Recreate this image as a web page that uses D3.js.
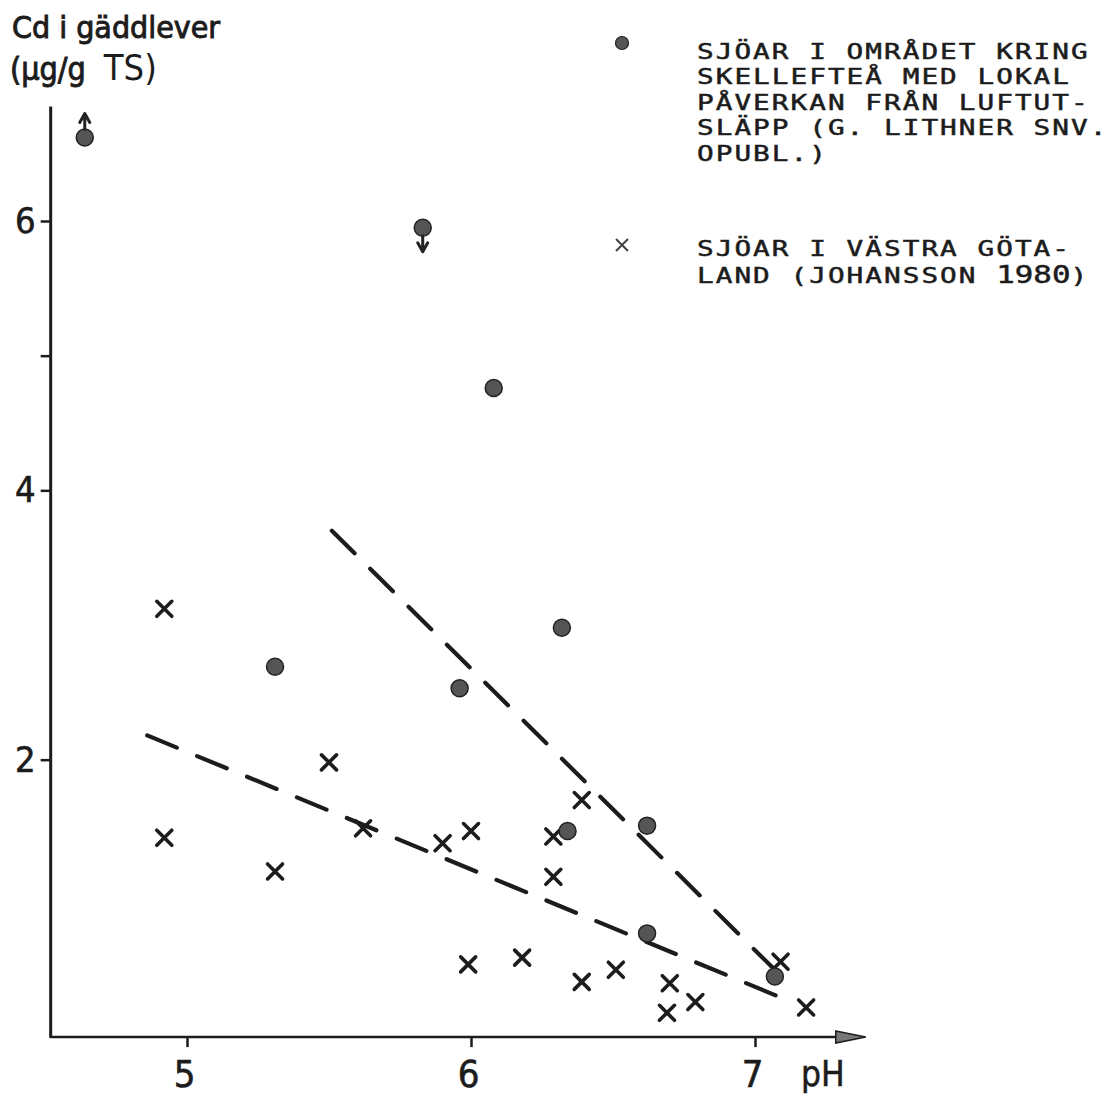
<!DOCTYPE html>
<html>
<head>
<meta charset="utf-8">
<script src="https://cdn.jsdelivr.net/npm/d3@7"></script>
<style>
  html, body { margin: 0; padding: 0; background: #fff; }
  svg { display: block; }
  .cond { font-family: "DejaVu Sans Condensed", "Liberation Sans Narrow", "DejaVu Sans", sans-serif; font-stretch: condensed; }
  .mono { font-family: "DejaVu Sans Mono", "Liberation Mono", monospace; }
</style>
</head>
<body>
<svg id="chart" width="1118" height="1098"></svg>
<script>
// Skellefteå lakes (local air-emission impact): pH and Cd in pike liver
const lakesNorthPH = [4.64, 5.83, 6.08, 5.31, 6.32, 5.96, 6.34, 6.62, 6.62, 7.07];
const lakesNorthCd = [6.62, 5.95, 4.76, 2.69, 2.98, 2.53, 1.47, 1.51, 0.71, 0.39];
// values beyond the marker: +1 = true value higher, -1 = lower, 0 = exact
const lakesNorthBound = [1, -1, 0, 0, 0, 0, 0, 0, 0, 0];

// Västra Götaland lakes (Johansson 1980)
const lakesWestPH = [4.92, 4.92, 5.31, 5.50, 5.62, 5.90, 6.00, 5.99, 6.18, 6.29,
                     6.29, 6.39, 6.39, 6.51, 6.70, 6.69, 6.79, 7.09, 7.18];
const lakesWestCd = [3.12, 1.42, 1.17, 1.98, 1.49, 1.38, 1.47, 0.48, 0.53, 1.43,
                     1.13, 1.70, 0.35, 0.44, 0.34, 0.12, 0.20, 0.50, 0.16];

// hand-fitted trend lines: [pH, Cd] end points
const trendNorth = [[5.51, 3.70], [7.06, 0.46]];
const trendWest = [[4.86, 2.18], [7.13, 0.20]];

const xTicks = [5, 6, 7];
const yTicks = [2, 4, 5, 6];
const yTickLabels = {2: "2", 4: "4", 6: "6"};
const xDomainEnds = [4.52, 7.39];
const yDomainEnds = [-0.06, 6.85];

const legendNorth = ["SJÖAR I OMRÅDET KRING", "SKELLEFTEÅ MED LOKAL",
                     "PÅVERKAN FRÅN LUFTUT-", "SLÄPP (G. LITHNER SNV.", "OPUBL.)"];
const legendWest = ["SJÖAR I VÄSTRA GÖTA-", "LAND (JOHANSSON "];
const legendWestYear = "1980";
const legendWestTail = ")";

const svg = d3.select("#chart");
const ink = "#1c1c1c";

const x = d3.scaleLinear().domain([5, 7]).range([187, 755]);
const y = d3.scaleLinear().domain([0, 6]).range([1029, 221]);

const axisY0 = y(yDomainEnds[0]);
const axisX0 = x(xDomainEnds[0]);

// x axis: ticks and labels
const gx = svg.append("g")
  .attr("transform", `translate(0,${axisY0})`)
  .call(d3.axisBottom(x).tickValues(xTicks).tickSize(10).tickPadding(13).tickFormat(d3.format("d")));
gx.select(".domain").remove();
gx.selectAll(".tick line").attr("stroke", ink).attr("stroke-width", 2.5);
gx.selectAll(".tick text").attr("class", "cond").attr("font-size", 38).attr("fill", ink)
  .attr("stroke", ink).attr("stroke-width", 0.6).attr("dx", -3);

// x axis line with arrow head
const xEnd = x(xDomainEnds[1]);
svg.append("line")
  .attr("x1", axisX0).attr("y1", axisY0).attr("x2", xEnd - 24).attr("y2", axisY0)
  .attr("stroke", ink).attr("stroke-width", 2.5);
svg.append("path")
  .attr("d", `M${xEnd - 30},${axisY0 - 6} L${xEnd},${axisY0} L${xEnd - 30},${axisY0 + 6} Z`)
  .attr("fill", "#777").attr("stroke", ink).attr("stroke-width", 1.5);

svg.append("text").attr("class", "cond")
  .attr("x", x(7) + 46).attr("y", 1086)
  .attr("font-size", 35).attr("fill", ink).attr("stroke", ink).attr("stroke-width", 0.5).text("pH");

// y axis
const gy = svg.append("g")
  .attr("transform", `translate(${axisX0},0)`)
  .call(d3.axisLeft(y).tickValues(yTicks).tickSize(10).tickPadding(5)
    .tickFormat(d => yTickLabels[d] || ""));
gy.select(".domain").remove();
gy.selectAll(".tick line").attr("stroke", ink).attr("stroke-width", 2.5);
gy.selectAll(".tick text").attr("class", "cond").attr("font-size", 36).attr("fill", ink)
  .attr("stroke", ink).attr("stroke-width", 0.6);

svg.append("line")
  .attr("x1", axisX0).attr("y1", axisY0 + 1).attr("x2", axisX0).attr("y2", y(yDomainEnds[1]))
  .attr("stroke", ink).attr("stroke-width", 3);

// axis title
svg.append("text").attr("class", "cond").attr("fill", ink)
  .attr("x", 12).attr("y", 38).attr("font-size", 31)
  .attr("stroke", ink).attr("stroke-width", 0.9)
  .attr("textLength", 208).attr("lengthAdjust", "spacingAndGlyphs")
  .text("Cd i gäddlever");
const t2 = svg.append("text").attr("class", "cond").attr("fill", ink).attr("x", 10).attr("y", 80);
t2.append("tspan").attr("font-size", 32).attr("stroke", ink).attr("stroke-width", 0.9).text("(µg/g");
t2.append("tspan").attr("font-size", 36).attr("dx", 18).text("TS)");

// trend lines
const trendLine = d3.line().x(d => x(d[0])).y(d => y(d[1]));
[trendNorth, trendWest].forEach(t => {
  svg.append("path")
    .attr("d", trendLine(t))
    .attr("fill", "none").attr("stroke", ink).attr("stroke-width", 4.2)
    .attr("stroke-linecap", "round").attr("stroke-dasharray", "32 22");
});

// crosses
const crossR = 7.5;
const west = lakesWestPH.map((p, i) => ({ph: p, cd: lakesWestCd[i]}));
svg.append("g").selectAll("path").data(west).join("path")
  .attr("d", d => {
    const cx = x(d.ph), cy = y(d.cd);
    return `M${cx - crossR},${cy - crossR}L${cx + crossR},${cy + crossR}M${cx + crossR},${cy - crossR}L${cx - crossR},${cy + crossR}`;
  })
  .attr("stroke", ink).attr("stroke-width", 3.6).attr("stroke-linecap", "round").attr("fill", "none");

// filled circles
const north = lakesNorthPH.map((p, i) => ({ph: p, cd: lakesNorthCd[i], b: lakesNorthBound[i]}));
const gN = svg.append("g");
gN.selectAll("circle").data(north).join("circle")
  .attr("cx", d => x(d.ph)).attr("cy", d => y(d.cd)).attr("r", 8.5)
  .attr("fill", "#555").attr("stroke", "#222").attr("stroke-width", 1.5);

// arrows for values outside the plotted range
const arrowLen = 24;
gN.selectAll("path.bound").data(north.filter(d => d.b !== 0)).join("path")
  .attr("class", "bound")
  .attr("d", d => {
    const cx = x(d.ph), cy = y(d.cd), s = -d.b;
    const tip = cy + s * arrowLen, base = cy + s * 8;
    return `M${cx},${base}L${cx},${tip}M${cx - 5},${tip - s * 9}L${cx},${tip}L${cx + 5},${tip - s * 9}`;
  })
  .attr("stroke", "#222").attr("stroke-width", 3).attr("fill", "none")
  .attr("stroke-linejoin", "round").attr("stroke-linecap", "round");

// legend (typewriter-style text, stretched horizontally)
const legX = 697, lineH = 25.5, stretch = 1.26, legFont = 22, legSp = 1.6;
function legendText(g, yPos) {
  return g.append("text").attr("class", "mono").attr("font-size", legFont)
    .attr("letter-spacing", legSp).attr("fill", ink)
    .attr("stroke", ink).attr("stroke-width", 0.5)
    .attr("x", legX / stretch).attr("y", yPos);
}
svg.append("circle").attr("cx", 622).attr("cy", 43).attr("r", 6.5)
  .attr("fill", "#555").attr("stroke", "#222").attr("stroke-width", 1.2);
const legN = svg.append("g").attr("transform", `scale(${stretch},1)`);
legendNorth.forEach((s, i) => legendText(legN, 59 + i * lineH).text(s));

svg.append("path")
  .attr("d", "M616,239L628,251M628,239L616,251")
  .attr("stroke", "#444").attr("stroke-width", 2).attr("fill", "none");
const legW = svg.append("g").attr("transform", `scale(${stretch},1)`);
legendText(legW, 256).text(legendWest[0]);
const l2 = legendText(legW, 283);
l2.append("tspan").text(legendWest[1]);
l2.append("tspan").attr("font-size", 24.5).attr("letter-spacing", 0).text(legendWestYear);
l2.append("tspan").text(legendWestTail);
</script>
</body>
</html>
